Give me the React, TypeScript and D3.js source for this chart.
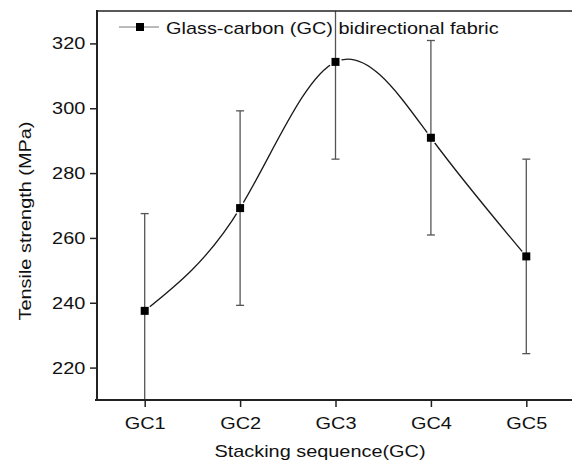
import { useEffect, useRef } from "react";
import * as d3 from "d3";

const categories = ["GC1", "GC2", "GC3", "GC4", "GC5"];
const strength = [237.5, 269.2, 314.3, 290.9, 254.3];
const errors = [30, 30, 30, 30, 30];
const yMajorTicks = [220, 240, 260, 280, 300, 320];
const yMinorTicks = [230, 250, 270, 290, 310];
const legendLabel = "Glass-carbon (GC) bidirectional fabric";

const width = 572;
const height = 463;
const MARGIN = { top: 11, right: -2, bottom: 63, left: 97 };
const FONT = "'Liberation Sans', Arial, sans-serif";
const FS = 17;
// text in the source is wider than plain Arial
const SX = 1.17;

function App() {
  const svgRef = useRef(null);

  useEffect(() => {
    const svg = d3.select(svgRef.current);
    svg.selectAll("*").remove();

    const x0 = MARGIN.left;
    const x1 = width - MARGIN.right;
    const y0 = height - MARGIN.bottom;
    const y1 = MARGIN.top;

    const xScale = d3.scaleLinear().domain([0.5, 5.5]).range([x0, x1]);
    const yScale = d3.scaleLinear().domain([210, 330]).range([y0, y1]);

    const pts = strength.map((v, i) => ({ x: i + 1, y: v, e: errors[i] }));

    const defs = svg.append("defs");
    defs.append("clipPath").attr("id", "plotClip")
      .append("rect")
      .attr("x", x0).attr("y", y1)
      .attr("width", x1 - x0).attr("height", y0 - y1);

    // small gap between line and symbols
    const mask = defs.append("mask").attr("id", "gapMask")
      .attr("maskUnits", "userSpaceOnUse")
      .attr("x", 0).attr("y", 0).attr("width", width).attr("height", height);
    mask.append("rect").attr("x", 0).attr("y", 0)
      .attr("width", width).attr("height", height).attr("fill", "white");
    mask.selectAll("circle").data(pts).enter().append("circle")
      .attr("cx", d => xScale(d.x)).attr("cy", d => yScale(d.y))
      .attr("r", 6.5).attr("fill", "black");

    const plot = svg.append("g").attr("clip-path", "url(#plotClip)");

    const line = d3.line<any>()
      .x(d => xScale(d.x))
      .y(d => yScale(d.y))
      .curve(d3.curveNatural);

    plot.append("path")
      .datum(pts)
      .attr("fill", "none")
      .attr("stroke", "#1a1a1a")
      .attr("stroke-width", 1.3)
      .attr("mask", "url(#gapMask)")
      .attr("d", line);

    // error bars
    const eb = plot.selectAll(".eb").data(pts).enter().append("g")
      .attr("stroke", "#555").attr("stroke-width", 1.3);
    eb.append("line")
      .attr("x1", d => xScale(d.x)).attr("x2", d => xScale(d.x))
      .attr("y1", d => yScale(d.y + d.e)).attr("y2", d => yScale(d.y - d.e));
    eb.append("line")
      .attr("x1", d => xScale(d.x) - 4).attr("x2", d => xScale(d.x) + 4)
      .attr("y1", d => yScale(d.y + d.e)).attr("y2", d => yScale(d.y + d.e));
    eb.append("line")
      .attr("x1", d => xScale(d.x) - 4).attr("x2", d => xScale(d.x) + 4)
      .attr("y1", d => yScale(d.y - d.e)).attr("y2", d => yScale(d.y - d.e));

    // symbols
    plot.selectAll(".sym").data(pts).enter().append("rect")
      .attr("x", d => xScale(d.x) - 4).attr("y", d => yScale(d.y) - 4)
      .attr("width", 8).attr("height", 8).attr("fill", "#000");

    // frame top
    svg.append("line")
      .attr("x1", x0).attr("x2", x1).attr("y1", y1).attr("y2", y1)
      .attr("stroke", "#222").attr("stroke-width", 1.5);

    // y-axis
    const yAxis = svg.append("g").attr("transform", `translate(${x0},0)`);
    yAxis.call(d3.axisLeft(yScale).tickValues(yMinorTicks).tickSize(4).tickFormat(() => ""));
    yAxis.call(d3.axisLeft(yScale).tickValues(yMajorTicks).tickSize(7).tickPadding(3));
    yAxis.selectAll(".domain").remove();
    yAxis.selectAll("line").attr("stroke", "#222").attr("stroke-width", 1.5);
    yAxis.selectAll("text")
      .attr("font-family", FONT).attr("font-size", FS).attr("fill", "#111")
      .attr("transform", `scale(${SX},1)`);
    svg.append("line")
      .attr("x1", x0).attr("x2", x0).attr("y1", y1 - 1).attr("y2", y0 + 1)
      .attr("stroke", "#222").attr("stroke-width", 2);

    // x-axis
    const xAxis = svg.append("g").attr("transform", `translate(0,${y0})`);
    xAxis.call(d3.axisBottom(xScale).tickValues([0.5, 1.5, 2.5, 3.5, 4.5, 5.5]).tickSize(4).tickFormat(() => ""));
    xAxis.call(d3.axisBottom(xScale).tickValues([1, 2, 3, 4, 5]).tickSize(7).tickPadding(10)
      .tickFormat(d => categories[(d as number) - 1]));
    xAxis.selectAll(".domain").remove();
    xAxis.selectAll("line").attr("stroke", "#222").attr("stroke-width", 1.5);
    xAxis.selectAll("text")
      .attr("font-family", FONT).attr("font-size", FS).attr("fill", "#111")
      .attr("transform", `scale(${SX},1)`);
    svg.append("line")
      .attr("x1", x0 - 2).attr("x2", x1).attr("y1", y0).attr("y2", y0)
      .attr("stroke", "#222").attr("stroke-width", 2);

    // axis titles
    svg.append("text")
      .attr("transform", `translate(320,457) scale(${SX},1)`)
      .attr("text-anchor", "middle")
      .attr("font-family", FONT).attr("font-size", FS).attr("fill", "#111")
      .text("Stacking sequence(GC)");
    svg.append("text")
      .attr("transform", `translate(31,221) rotate(-90) scale(${SX},1)`)
      .attr("text-anchor", "middle")
      .attr("font-family", FONT).attr("font-size", FS).attr("fill", "#111")
      .text("Tensile strength (MPa)");

    // legend
    const lg = svg.append("g").attr("transform", "translate(119,27)");
    lg.append("line").attr("x1", 0).attr("x2", 40).attr("y1", 0).attr("y2", 0)
      .attr("stroke", "#777").attr("stroke-width", 1.2);
    lg.append("rect").attr("x", 17).attr("y", -4).attr("width", 8).attr("height", 8).attr("fill", "#000");
    lg.append("text")
      .attr("transform", `translate(47,7) scale(${SX},1)`)
      .attr("font-family", FONT).attr("font-size", FS).attr("fill", "#111")
      .text(legendLabel);
  }, []);

  return (
    <div style={{ position: "absolute", left: 0, top: 0 }}>
      <svg width={width} height={height} ref={svgRef} style={{ display: "block", background: "#fff" }}></svg>
    </div>
  );
}

export default App;
